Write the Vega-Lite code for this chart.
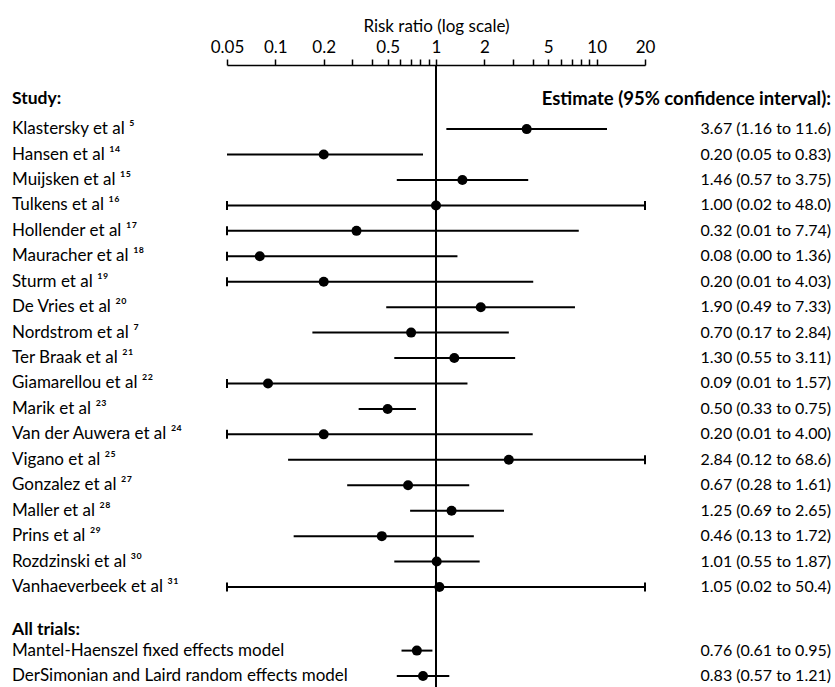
{
  "$schema": "https://vega.github.io/schema/vega-lite/v6.json",
  "background": "white",
  "padding": {"left": 12, "right": 4, "top": 17, "bottom": 0},
  "bounds": "flush",
  "spacing": 0,
  "config": {
    "view": {"stroke": null},
    "font": "Lato",
    "text": {"font": "Lato", "color": "#000", "fontSize": 16},
    "axis": {
      "labelOverlap": false,
      "labelFlush": false,
      "grid": false,
      "tickSize": 6,
      "tickWidth": 1.5,
      "tickColor": "#000",
      "domainWidth": 1.5,
      "domainColor": "#000",
      "labelFont": "Lato",
      "labelFontSize": 17,
      "labelColor": "#000",
      "labelPadding": 3,
      "titleFont": "Lato",
      "titleFontSize": 17,
      "titleFontWeight": "normal",
      "titleColor": "#000",
      "titlePadding": 3
    }
  },
  "datasets": {
    "studies": [
      {"row": 0, "label": "Klastersky et al ⁵", "est": 3.67, "lo": 1.16, "hi": 11.6, "ci": "3.67 (1.16 to 11.6)"},
      {"row": 1, "label": "Hansen et al ¹⁴", "est": 0.20, "lo": 0.05, "hi": 0.83, "ci": "0.20 (0.05 to 0.83)"},
      {"row": 2, "label": "Muijsken et al ¹⁵", "est": 1.46, "lo": 0.57, "hi": 3.75, "ci": "1.46 (0.57 to 3.75)"},
      {"row": 3, "label": "Tulkens et al ¹⁶", "est": 1.00, "lo": 0.02, "hi": 48.0, "ci": "1.00 (0.02 to 48.0)"},
      {"row": 4, "label": "Hollender et al ¹⁷", "est": 0.32, "lo": 0.01, "hi": 7.74, "ci": "0.32 (0.01 to 7.74)"},
      {"row": 5, "label": "Mauracher et al ¹⁸", "est": 0.08, "lo": 0.004, "hi": 1.36, "ci": "0.08 (0.00 to 1.36)"},
      {"row": 6, "label": "Sturm et al ¹⁹", "est": 0.20, "lo": 0.01, "hi": 4.03, "ci": "0.20 (0.01 to 4.03)"},
      {"row": 7, "label": "De Vries et al ²⁰", "est": 1.90, "lo": 0.49, "hi": 7.33, "ci": "1.90 (0.49 to 7.33)"},
      {"row": 8, "label": "Nordstrom et al ⁷", "est": 0.70, "lo": 0.17, "hi": 2.84, "ci": "0.70 (0.17 to 2.84)"},
      {"row": 9, "label": "Ter Braak et al ²¹", "est": 1.30, "lo": 0.55, "hi": 3.11, "ci": "1.30 (0.55 to 3.11)"},
      {"row": 10, "label": "Giamarellou et al ²²", "est": 0.09, "lo": 0.01, "hi": 1.57, "ci": "0.09 (0.01 to 1.57)"},
      {"row": 11, "label": "Marik et al ²³", "est": 0.50, "lo": 0.33, "hi": 0.75, "ci": "0.50 (0.33 to 0.75)"},
      {"row": 12, "label": "Van der Auwera et al ²⁴", "est": 0.20, "lo": 0.01, "hi": 4.00, "ci": "0.20 (0.01 to 4.00)"},
      {"row": 13, "label": "Vigano et al ²⁵", "est": 2.84, "lo": 0.12, "hi": 68.6, "ci": "2.84 (0.12 to 68.6)"},
      {"row": 14, "label": "Gonzalez et al ²⁷", "est": 0.67, "lo": 0.28, "hi": 1.61, "ci": "0.67 (0.28 to 1.61)"},
      {"row": 15, "label": "Maller et al ²⁸", "est": 1.25, "lo": 0.69, "hi": 2.65, "ci": "1.25 (0.69 to 2.65)"},
      {"row": 16, "label": "Prins et al ²⁹", "est": 0.46, "lo": 0.13, "hi": 1.72, "ci": "0.46 (0.13 to 1.72)"},
      {"row": 17, "label": "Rozdzinski et al ³⁰", "est": 1.01, "lo": 0.55, "hi": 1.87, "ci": "1.01 (0.55 to 1.87)"},
      {"row": 18, "label": "Vanhaeverbeek et al ³¹", "est": 1.05, "lo": 0.02, "hi": 50.4, "ci": "1.05 (0.02 to 50.4)"},
      {"row": 20.5, "label": "Mantel-Haenszel fixed effects model", "est": 0.76, "lo": 0.61, "hi": 0.95, "ci": "0.76 (0.61 to 0.95)"},
      {"row": 21.5, "label": "DerSimonian and Laird random effects model", "est": 0.83, "lo": 0.57, "hi": 1.21, "ci": "0.83 (0.57 to 1.21)"}
    ],
    "headers": [
      {"row": -1.2, "label": "Study:", "column": "study"},
      {"row": 19.7, "label": "All trials:", "column": "study"},
      {"row": -1.2, "label": "Estimate (95% confidence interval):", "column": "estimate"}
    ]
  },
  "hconcat": [
    {
      "width": 215,
      "height": 623,
      "layer": [
        {
          "data": {"name": "studies"},
          "mark": {"type": "text", "align": "left", "baseline": "middle", "fontSize": 17},
          "encoding": {
            "x": {"datum": 0, "type": "quantitative", "scale": {"domain": [0, 1]}, "axis": null},
            "y": {"field": "row", "type": "quantitative", "scale": {"domain": [-2.52, 21.97], "reverse": true, "nice": false, "zero": false}, "axis": null},
            "text": {"field": "label"}
          }
        },
        {
          "data": {"name": "headers"},
          "transform": [{"filter": "datum.column === 'study'"}],
          "mark": {"type": "text", "align": "left", "baseline": "middle", "fontSize": 17.5, "fontWeight": "bold"},
          "encoding": {
            "x": {"datum": 0, "type": "quantitative", "scale": {"domain": [0, 1]}, "axis": null},
            "y": {"field": "row", "type": "quantitative", "scale": {"domain": [-2.52, 21.97], "reverse": true, "nice": false, "zero": false}, "axis": null},
            "text": {"field": "label"}
          }
        }
      ]
    },
    {
      "width": 418,
      "height": 623,
      "layer": [
        {
          "data": {"values": [{"ref": 1}]},
          "mark": {"type": "rule", "strokeWidth": 2, "color": "#000"},
          "encoding": {
            "x": {
              "field": "ref",
              "type": "quantitative",
              "scale": {"type": "log", "domain": [0.05, 20], "nice": false, "clamp": true},
              "axis": {
                "orient": "top",
                "title": "Risk ratio (log scale)",
                "values": [0.05, 0.1, 0.2, 0.3, 0.4, 0.5, 0.6, 0.7, 0.8, 0.9, 1, 2, 3, 4, 5, 6, 7, 8, 9, 10, 20],
                "labelExpr": "indexof([0.05, 0.1, 0.2, 0.5, 1, 2, 5, 10, 20], datum.value) >= 0 ? datum.label : ''",
                "format": "~g"
              }
            }
          }
        },
        {
          "data": {"name": "studies"},
          "mark": {"type": "rule", "strokeWidth": 2, "color": "#000"},
          "encoding": {
            "x": {
              "field": "lo",
              "type": "quantitative",
              "scale": {"type": "log", "domain": [0.05, 20], "nice": false, "clamp": true},
              "axis": {
                "orient": "top",
                "title": "Risk ratio (log scale)",
                "values": [0.05, 0.1, 0.2, 0.3, 0.4, 0.5, 0.6, 0.7, 0.8, 0.9, 1, 2, 3, 4, 5, 6, 7, 8, 9, 10, 20],
                "labelExpr": "indexof([0.05, 0.1, 0.2, 0.5, 1, 2, 5, 10, 20], datum.value) >= 0 ? datum.label : ''",
                "format": "~g"
              }
            },
            "x2": {"field": "hi"},
            "y": {"field": "row", "type": "quantitative", "scale": {"domain": [-2.52, 21.97], "reverse": true, "nice": false, "zero": false}, "axis": null}
          }
        },
        {
          "data": {"name": "studies"},
          "transform": [{"filter": "datum.lo < 0.05"}],
          "mark": {"type": "tick", "orient": "vertical", "thickness": 2, "size": 9, "color": "#000", "opacity": 1},
          "encoding": {
            "x": {
              "field": "lo",
              "type": "quantitative",
              "scale": {"type": "log", "domain": [0.05, 20], "nice": false, "clamp": true},
              "axis": {
                "orient": "top",
                "title": "Risk ratio (log scale)",
                "values": [0.05, 0.1, 0.2, 0.3, 0.4, 0.5, 0.6, 0.7, 0.8, 0.9, 1, 2, 3, 4, 5, 6, 7, 8, 9, 10, 20],
                "labelExpr": "indexof([0.05, 0.1, 0.2, 0.5, 1, 2, 5, 10, 20], datum.value) >= 0 ? datum.label : ''",
                "format": "~g"
              }
            },
            "y": {"field": "row", "type": "quantitative", "scale": {"domain": [-2.52, 21.97], "reverse": true, "nice": false, "zero": false}, "axis": null}
          }
        },
        {
          "data": {"name": "studies"},
          "transform": [{"filter": "datum.hi > 20"}],
          "mark": {"type": "tick", "orient": "vertical", "thickness": 2, "size": 9, "color": "#000", "opacity": 1},
          "encoding": {
            "x": {
              "field": "hi",
              "type": "quantitative",
              "scale": {"type": "log", "domain": [0.05, 20], "nice": false, "clamp": true},
              "axis": {
                "orient": "top",
                "title": "Risk ratio (log scale)",
                "values": [0.05, 0.1, 0.2, 0.3, 0.4, 0.5, 0.6, 0.7, 0.8, 0.9, 1, 2, 3, 4, 5, 6, 7, 8, 9, 10, 20],
                "labelExpr": "indexof([0.05, 0.1, 0.2, 0.5, 1, 2, 5, 10, 20], datum.value) >= 0 ? datum.label : ''",
                "format": "~g"
              }
            },
            "y": {"field": "row", "type": "quantitative", "scale": {"domain": [-2.52, 21.97], "reverse": true, "nice": false, "zero": false}, "axis": null}
          }
        },
        {
          "data": {"name": "studies"},
          "mark": {"type": "circle", "size": 100, "color": "#000", "opacity": 1},
          "encoding": {
            "x": {
              "field": "est",
              "type": "quantitative",
              "scale": {"type": "log", "domain": [0.05, 20], "nice": false, "clamp": true},
              "axis": {
                "orient": "top",
                "title": "Risk ratio (log scale)",
                "values": [0.05, 0.1, 0.2, 0.3, 0.4, 0.5, 0.6, 0.7, 0.8, 0.9, 1, 2, 3, 4, 5, 6, 7, 8, 9, 10, 20],
                "labelExpr": "indexof([0.05, 0.1, 0.2, 0.5, 1, 2, 5, 10, 20], datum.value) >= 0 ? datum.label : ''",
                "format": "~g"
              }
            },
            "y": {"field": "row", "type": "quantitative", "scale": {"domain": [-2.52, 21.97], "reverse": true, "nice": false, "zero": false}, "axis": null}
          }
        }
      ]
    },
    {
      "width": 186,
      "height": 623,
      "layer": [
        {
          "data": {"name": "studies"},
          "mark": {"type": "text", "align": "right", "baseline": "middle", "fontSize": 16},
          "encoding": {
            "x": {"datum": 1, "type": "quantitative", "scale": {"domain": [0, 1]}, "axis": null},
            "y": {"field": "row", "type": "quantitative", "scale": {"domain": [-2.52, 21.97], "reverse": true, "nice": false, "zero": false}, "axis": null},
            "text": {"field": "ci"}
          }
        },
        {
          "data": {"name": "headers"},
          "transform": [{"filter": "datum.column === 'estimate'"}],
          "mark": {"type": "text", "align": "right", "baseline": "middle", "fontSize": 18.5, "fontWeight": "bold"},
          "encoding": {
            "x": {"datum": 1, "type": "quantitative", "scale": {"domain": [0, 1]}, "axis": null},
            "y": {"field": "row", "type": "quantitative", "scale": {"domain": [-2.52, 21.97], "reverse": true, "nice": false, "zero": false}, "axis": null},
            "text": {"field": "label"}
          }
        }
      ]
    }
  ]
}
